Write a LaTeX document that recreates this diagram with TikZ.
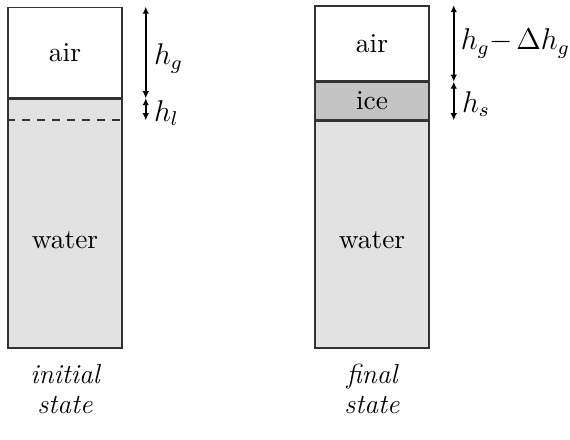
\documentclass[tikz,border=0pt,11pt]{standalone}
\usepackage{amsmath,amssymb}
\usepackage{xcolor}
\usepackage{tikz}
\usetikzlibrary{arrows.meta, positioning, calc}
\definecolor{icLine}{HTML}{333333}
\definecolor{icWater}{HTML}{E2E2E2}
\definecolor{icIce}{HTML}{C4C4C4}
\def\pxu{0.01406cm}
\tikzset{
  layer/.style={draw=icLine, line width=0.6pt, rectangle, inner sep=0pt, minimum width=114*\pxu},
  airlayer/.style={layer, fill=white},
  waterlayer/.style={layer, fill=icWater},
  icelayer/.style={layer, fill=icIce},
  dimarrow/.style={{Latex[length=2.8pt,width=2.6pt]}-{Latex[length=2.8pt,width=2.6pt]}, line width=0.6pt},
  dimlabel/.style={anchor=west, inner sep=3pt, font=\large},
  statelabel/.style={align=center, font=\fontsize{11}{12}\selectfont\itshape},
}

\begin{document}
\begin{tikzpicture}[x=\pxu, y=-\pxu]
\useasboundingbox (0,0) rectangle (570,440);

% initial state
\node[waterlayer, minimum height=249*\pxu] (lwater) at (65,223.5) {};
\node[airlayer, minimum height=90*\pxu, anchor=south] (lair) at (lwater.north) {air};
\node (lwtext) at (65,240) {water};
\coordinate (lline) at ($(lair.south west)+(0,22)$);
\draw[icLine, line width=0.6pt, dashed] (lline) -- (lline -| lair.east);

\coordinate (gtop) at ($(lair.north east)+(23,0)$);
\coordinate (gbot) at ($(lair.south east)+(23,0)$);
\coordinate (lbot) at ($(lline -| lair.east)+(23,0)$);
\draw[dimarrow] (gtop) -- node[dimlabel, yshift=-6*\pxu]{$h_g$} (gbot);
\draw[dimarrow] (gbot) -- node[dimlabel, yshift=-4*\pxu]{$h_l$} (lbot);

\node[statelabel] (linit) at (65,389) {initial\\state};

% final state
\node[waterlayer, minimum height=227*\pxu] (rwater) at (372,234.5) {};
\node[icelayer, minimum height=37*\pxu, anchor=south] (rice) at (rwater.north) {ice};
\node[airlayer, minimum height=75*\pxu, anchor=south] (rair) at (rice.north) {air};
\node (rwtext) at (372,240) {water};

\coordinate (atop) at ($(rair.north east)+(24,0)$);
\coordinate (abot) at ($(rair.south east)+(24,0)$);
\coordinate (sbot) at ($(rice.south east)+(24,0)$);
\draw[dimarrow] (atop) -- node[dimlabel, inner sep=2.5pt]{$h_g{-}\mkern2mu\Delta h_g$} (abot);
\draw[dimarrow] (abot) -- node[dimlabel, yshift=-3*\pxu]{$h_s$} (sbot);

\node[statelabel] (rfinal) at (372,389) {final\\state};
\end{tikzpicture}
\end{document}
